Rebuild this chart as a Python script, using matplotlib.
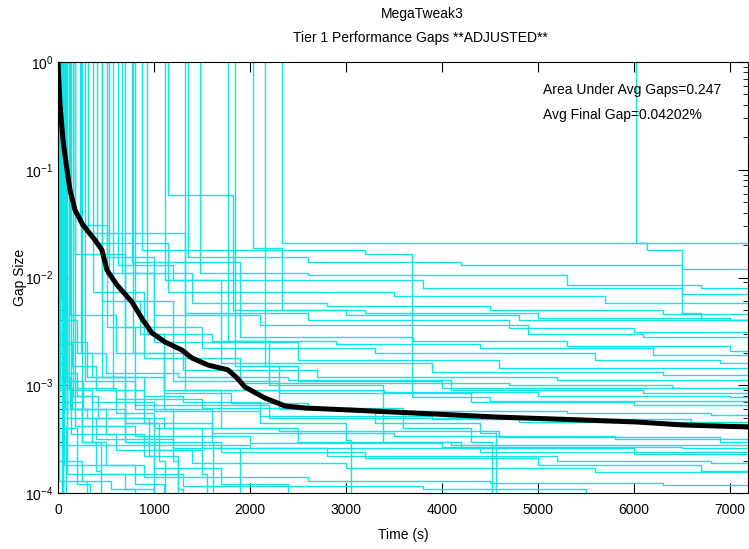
import numpy as np
import matplotlib
matplotlib.use("Agg")
import matplotlib.pyplot as plt

plt.rcParams['font.family'] = ['Liberation Sans Narrow', 'Liberation Sans', 'DejaVu Sans']
plt.rcParams['mathtext.default'] = 'regular'

# average gap curve (time s, gap)
avg_t = [0, 21, 52, 94, 125, 177, 260, 385, 458, 510, 615, 771, 885, 979, 1115, 1292,
         1396, 1563, 1771, 1865, 1948, 2156, 2365, 2573, 3042, 3698, 4573, 5469, 6031,
         6510, 7200]
avg_gap = [1.0, 0.40, 0.189, 0.0995, 0.065, 0.0423, 0.0307, 0.0223, 0.018, 0.0117, 0.0085,
           0.00593, 0.00403, 0.00306, 0.00252, 0.00212, 0.00179, 0.00154, 0.00139, 0.00117,
           0.000963, 0.000762, 0.000642, 0.000615, 0.000589, 0.000553, 0.000507, 0.000476,
           0.000456, 0.000428, 0.00041]

# individual runs that last the whole time limit: (time, gap) steps
long_runs = [
    [(2333, 0.021)],
    [(6021, 0.021), (6135, 0.018), (6500, 0.0047), (6700, 0.0040)],
    [(2031, 0.0188), (2333, 0.0050), (3000, 0.0045), (4800, 0.0040)],
    [(875, 0.018), (3198, 0.0165), (3688, 0.00078), (4500, 0.00072)],
    [(1354, 0.0155), (2600, 0.0139), (4200, 0.0131), (6500, 0.0120)],
    [(771, 0.0139), (1480, 0.0110), (2600, 0.0105), (5300, 0.0085), (6700, 0.0080)],
    [(625, 0.0131), (1200, 0.0095), (3800, 0.0080), (6500, 0.0070)],
    [(406, 0.021), (1146, 0.0073), (3500, 0.0068), (5700, 0.0058)],
    [(1146, 0.058), (1823, 0.0050), (3200, 0.0047), (5000, 0.0042), (7000, 0.0040)],
    [(313, 0.0259), (1323, 0.0047), (2600, 0.0040), (4700, 0.0034), (6000, 0.0031)],
    [(229, 0.0307), (510, 0.0155), (1000, 0.0045), (2100, 0.0036), (4900, 0.0030), (6100, 0.0028)],
    [(1479, 0.0139), (1900, 0.0028), (3700, 0.0026), (5300, 0.0023), (7000, 0.0021)],
    [(177, 0.0165), (700, 0.0035), (1500, 0.0022), (3300, 0.0020), (5600, 0.00171), (6900, 0.00161)],
    [(667, 0.0110), (1000, 0.0025), (2500, 0.0017), (4600, 0.00145)],
    [(1115, 0.0095), (1700, 0.0016), (3900, 0.00133), (6300, 0.00125)],
    [(125, 0.0045), (600, 0.0020), (1300, 0.0014), (2700, 0.00119), (5200, 0.00112)],
    [(365, 0.0073), (900, 0.0018), (1900, 0.00105), (4700, 0.00100), (6400, 0.00095)],
    [(73, 0.0025), (300, 0.0012), (1100, 0.0009), (3400, 0.00087), (5000, 0.00080), (7000, 0.00078)],
    [(802, 0.0060), (1200, 0.0011), (2300, 0.00085), (4300, 0.00070), (6000, 0.00066)],
    [(42, 0.0013), (200, 0.00095), (600, 0.00075), (1500, 0.00062), (3100, 0.00058), (5300, 0.00055), (6800, 0.00053)],
    [(281, 0.0011), (800, 0.00065), (2200, 0.00050), (4800, 0.00046)],
    [(21, 0.00095), (150, 0.00060), (700, 0.00045), (1600, 0.00036), (3500, 0.00034), (5800, 0.00032)],
    [(52, 0.0007), (250, 0.00042), (800, 0.00034), (2000, 0.00029), (4000, 0.00027), (6500, 0.00026)],
    [(98, 0.0005), (400, 0.00032), (1200, 0.00026), (2800, 0.00022), (5200, 0.00020), (6800, 0.00019)],
    [(140, 0.00035), (600, 0.00025), (1400, 0.00019), (3000, 0.00017), (5600, 0.000155)],
    [(10, 0.00028), (2000, 0.00026), (4400, 0.00024)],
    [(60, 0.00018), (900, 0.00014), (2600, 0.00013), (4500, 0.000125), (6300, 0.000118)],
    [(90, 0.00015), (1300, 0.000115), (3800, 0.000108), (5500, 5e-5)],
    [(1771, 0.0026), (2200, 0.0010), (3385, 0.00030), (4200, 0.00026), (6000, 0.00023)],
    [(1323, 0.0009), (1700, 0.00040), (2500, 0.00030), (4100, 0.00028)],
    [(2156, 0.0015), (2500, 0.0011), (4000, 0.00095)],
    [(458, 0.0060), (850, 0.0030), (1600, 0.0026), (2900, 0.0024), (4400, 0.0022), (6200, 0.0019)],
    [(240, 0.0020), (500, 0.0013), (1250, 0.0012), (2400, 0.00112), (4100, 0.00090), (6100, 0.00085)],
    [(110, 0.0009), (350, 0.00070), (1000, 0.00058), (2100, 0.00052), (3900, 0.00049), (6600, 0.00044)],
    [(70, 0.0006), (300, 0.00050), (1100, 0.00040), (2300, 0.00038), (4600, 0.00033), (6900, 0.00030)],
    [(180, 0.00042), (700, 0.00030), (1700, 0.00024), (3200, 0.00021), (5000, 0.00018), (6700, 0.00016)],
    [(530, 0.0110), (1400, 0.0058), (2800, 0.0054), (4500, 0.0050), (6300, 0.0046)],
]

# runs that close below 1e-4 early on
short_runs = [
    [(0, 0.003), (40, 5e-5)],
    [(10, 0.0009), (50, 5e-5)],
    [(20, 0.02), (60, 0.0004), (80, 5e-5)],
    [(35, 0.1), (55, 5e-5)],
    [(0, 0.0002), (250, 0.00013), (550, 0.00011), (800, 5e-5)],
    [(15, 0.0012), (120, 0.0006), (250, 0.0003), (400, 0.00016), (450, 5e-5)],
    [(458, 0.0012), (700, 0.0005), (950, 0.00022), (1000, 5e-5)],
    [(573, 0.0009), (900, 0.00045), (1050, 0.0002), (1120, 5e-5)],
    [(698, 0.00045), (1000, 0.00025), (1500, 0.00015), (1550, 5e-5)],
    [(927, 0.003), (1100, 0.0006), (1600, 0.0003), (1620, 5e-5)],
    [(1844, 0.0015), (2300, 0.0006), (3300, 0.00045), (4400, 0.00036), (4560, 5e-5)],
    [(12, 0.00013), (300, 5e-5)],
    [(250, 0.0003), (450, 0.00015), (700, 0.00011), (1000, 5e-5)],
    [(160, 0.0008), (350, 0.0003), (500, 0.00018), (800, 0.00012), (1100, 5e-5)],
    [(510, 0.0035), (800, 0.0006), (1200, 0.00020), (1250, 5e-5)],
    [(30, 0.006), (90, 0.0004), (200, 0.00012), (330, 5e-5)],
    [(5, 0.0016), (80, 0.0011), (200, 0.0008), (420, 0.0005), (700, 0.0003), (1000, 0.00017), (1700, 0.00012), (2400, 5e-5)],
    [(25, 0.0024), (150, 0.0015), (400, 0.0009), (600, 0.00055), (1000, 0.00040), (1500, 0.00026), (1900, 5e-5)],
    [(45, 0.0040), (200, 0.0020), (350, 0.0012), (900, 0.0008), (1300, 0.0007), (2100, 0.00045), (3000, 0.00031), (3050, 5e-5)],
    [(85, 0.0011), (260, 0.00060), (500, 0.00035), (900, 0.00022), (1250, 0.00011), (1300, 5e-5)],
    [(780, 0.0020), (1100, 0.00085), (1800, 0.00068), (2600, 0.00062), (3600, 0.00040), (4300, 0.00030), (4520, 5e-5)],
]

t_end = 7200

fig = plt.figure(figsize=(7.49, 5.49), dpi=100)
ax = fig.add_axes([58 / 749, 56 / 549, 690 / 749, 431 / 549])

for run in long_runs + short_runs:
    t = [0] + [p[0] for p in run] + [t_end]
    g = [10.0] + [p[1] for p in run] + [run[-1][1]]
    ax.plot(t, g, color='#10e4e4', lw=1.0, drawstyle='steps-post', zorder=2)

ax.plot(avg_t, avg_gap, color='black', lw=3.6, zorder=3)

ax.set_yscale('log')
ax.set_xlim(0, 7190)
ax.set_ylim(1e-4, 1)
ax.set_xticks([0, 1000, 2000, 3000, 4000, 5000, 6000, 7000])
ax.set_yticks([1e-4, 1e-3, 1e-2, 1e-1, 1])
ax.set_yticklabels(['$10^{-4}$', '$10^{-3}$', '$10^{-2}$', '$10^{-1}$', '$10^{0}$'])
ax.tick_params(which='both', direction='in', top=True, right=True, labelsize=10)
ax.tick_params(axis='x', pad=7)
ax.tick_params(which='major', length=7)
ax.tick_params(which='minor', length=3.5)

ax.set_xlabel('Time (s)', fontsize=10, labelpad=8)
ax.set_ylabel('Gap Size', fontsize=10)
ax.yaxis.set_label_coords(-0.045, 0.5)

ax.text(0.703, 0.935, 'Area Under Avg Gaps=0.247', transform=ax.transAxes,
        fontsize=10, va='center')
ax.text(0.703, 0.877, 'Avg Final Gap=0.04202%', transform=ax.transAxes,
        fontsize=10, va='center')

fig.text(422 / 749, 1 - 14 / 549, 'MegaTweak3', ha='center', va='center', fontsize=10)
fig.text(420 / 749, 1 - 38 / 549, 'Tier 1 Performance Gaps **ADJUSTED**',
         ha='center', va='center', fontsize=10)

fig.savefig('out.png', dpi=100)
